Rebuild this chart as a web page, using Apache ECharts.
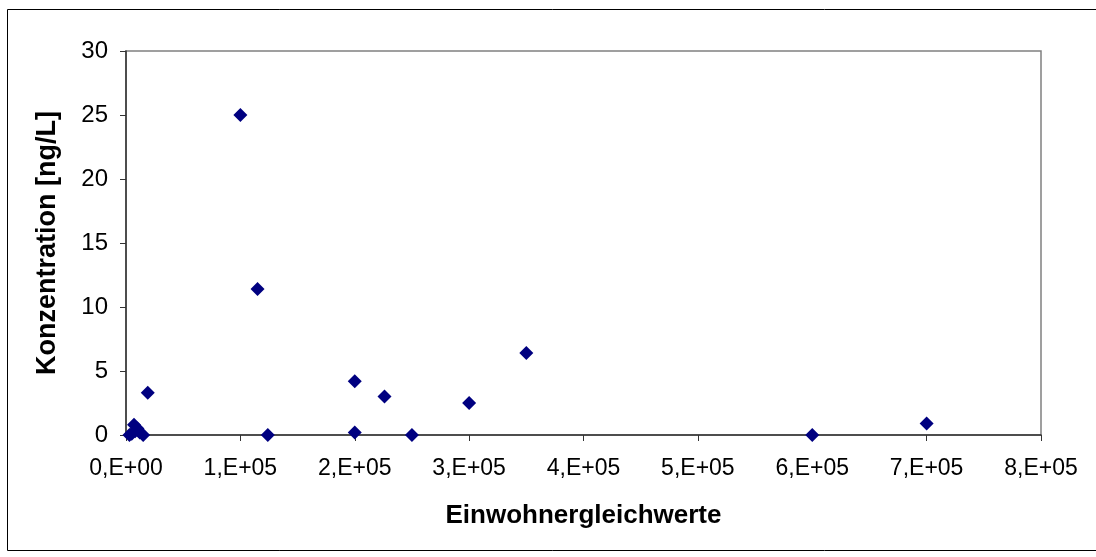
<!DOCTYPE html>
<html><head><meta charset="utf-8">
<script src="https://cdn.jsdelivr.net/npm/echarts@6/dist/echarts.min.js"></script>
<style>html,body{margin:0;padding:0;background:#fff}#c{width:1096px;height:557px}</style>
</head><body><div id="c"></div>
<script>
const xValues = [3000, 5000, 7000, 8000, 10000, 12000, 15000, 19000, 100000, 115000, 124000, 200000, 200000, 226000, 250000, 300000, 350000, 600000, 700000];
const yValues = [0.0, 0.1, 0.8, 0.3, 0.5, 0.2, 0.0, 3.3, 25.0, 11.4, 0.0, 4.2, 0.2, 3.0, 0.0, 2.5, 6.4, 0.0, 0.9];
const xTickLabels = ['0,E+00','1,E+05','2,E+05','3,E+05','4,E+05','5,E+05','6,E+05','7,E+05','8,E+05'];
const yTickLabels = ['0','5','10','15','20','25','30'];
const xTitle = 'Einwohnergleichwerte';
const yTitle = 'Konzentration [ng/L]';

const chart = echarts.init(document.getElementById('c'));
const font = 'Liberation Sans, Arial, sans-serif';
chart.setOption({
  animation: false,
  graphic: [{type:'rect', shape:{x:7.5,y:9.5,width:1100,height:541}, style:{fill:'none', stroke:'#000', lineWidth:1}, z:-1}],
  grid: {left:126, top:51, width:915, height:384, show:true, borderColor:'#808080', borderWidth:1.5},
  xAxis: {type:'value', min:0, max:800000, interval:100000,
    name:xTitle, nameLocation:'middle', nameGap:68,
    nameTextStyle:{fontFamily:font, fontSize:26, fontWeight:'bold', color:'#000'},
    axisLine:{onZero:false, lineStyle:{color:'#333', width:1.5}},
    axisTick:{show:true, length:6, lineStyle:{color:'#333'}},
    splitLine:{show:false},
    axisLabel:{margin:22, fontFamily:font, fontSize:23, color:'#000',
      formatter:(v)=>xTickLabels[Math.round(v/100000)]}},
  yAxis: {type:'value', min:0, max:30, interval:5,
    name:yTitle, nameLocation:'middle', nameGap:65,
    nameTextStyle:{fontFamily:font, fontSize:27, fontWeight:'bold', color:'#000'},
    axisLine:{show:true, lineStyle:{color:'#333', width:1.5}},
    axisTick:{show:true, length:6, lineStyle:{color:'#333'}},
    splitLine:{show:false},
    axisLabel:{margin:18, fontFamily:font, fontSize:24, color:'#000',
      formatter:(v)=>yTickLabels[Math.round(v/5)]}},
  series: [{type:'scatter', symbol:'diamond', symbolSize:14,
    itemStyle:{color:'#000080', opacity:1},
    data: xValues.map((x,i)=>[x, yValues[i]])}]
});
</script></body></html>
